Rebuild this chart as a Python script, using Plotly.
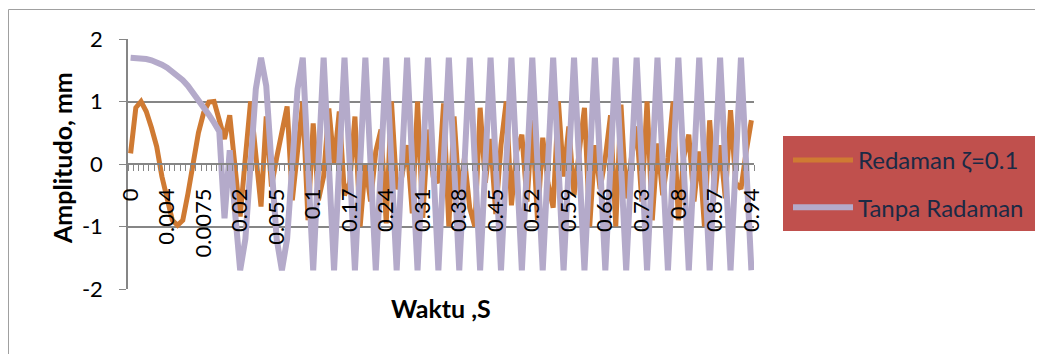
import plotly.graph_objects as go

# ---------------- data ----------------
waktu = [0, 0.001, 0.0015, 0.002, 0.0025, 0.003, 0.0035, 0.004,
         0.0045, 0.005, 0.0055, 0.006, 0.0065, 0.007, 0.0075,
         0.008, 0.0085, 0.009, 0.0095, 0.01, 0.015, 0.02,
         0.025, 0.03, 0.035, 0.04, 0.045, 0.05, 0.055,
         0.06, 0.065, 0.07, 0.075, 0.08, 0.09, 0.1,
         0.11, 0.12, 0.13, 0.14, 0.15, 0.16, 0.17,
         0.18, 0.19, 0.2, 0.21, 0.22, 0.23, 0.24,
         0.25, 0.26, 0.27, 0.28, 0.29, 0.3, 0.31,
         0.32, 0.33, 0.34, 0.35, 0.36, 0.37, 0.38,
         0.39, 0.4, 0.41, 0.42, 0.43, 0.44, 0.45,
         0.46, 0.47, 0.48, 0.49, 0.5, 0.51, 0.52,
         0.53, 0.54, 0.55, 0.56, 0.57, 0.58, 0.59,
         0.6, 0.61, 0.62, 0.63, 0.64, 0.65, 0.66,
         0.67, 0.68, 0.69, 0.7, 0.71, 0.72, 0.73,
         0.74, 0.75, 0.76, 0.77, 0.78, 0.79, 0.8,
         0.81, 0.82, 0.83, 0.84, 0.85, 0.86, 0.87,
         0.88, 0.89, 0.9, 0.91, 0.92, 0.93, 0.94]

redaman = [0.17, 0.90, 1.00, 0.84, 0.58, 0.28, -0.20, -0.58,
           -0.90, -0.98, -0.90, -0.47, 0.06, 0.50, 0.82,
           0.99, 1.00, 0.72, 0.40, 0.78, 0.00, -0.84,
           0.10, 1.00, 0.15, -0.68, 0.76, -0.36, 0.10,
           0.55, 0.92, -0.58, 0.20, 1.00, -0.90, 0.65,
           -0.58, -0.20, 0.89, 0.00, 0.84, -0.50, -0.30,
           0.76, -1.00, 0.00, -0.60, 0.20, 0.55, -0.95,
           1.00, -0.40, -0.20, 0.30, -0.79, 1.00, -0.86,
           0.55, -0.20, -0.30, 0.97, -1.00, 0.76, -0.50,
           0.10, -0.70, -1.00, 0.90, -0.30, 0.40, -0.80,
           0.30, 1.00, -0.66, 0.20, 0.47, -0.60, 0.70,
           -0.90, 0.42, -0.30, -0.70, 1.00, -0.20, 0.60,
           -0.50, 0.20, 0.90, -1.00, 0.30, -0.40, 0.10,
           0.78, -1.00, 0.95, -0.55, 0.10, 0.60, -0.60,
           1.00, -0.90, 0.33, -0.50, 0.10, 1.00, -0.90,
           0.10, 0.47, -0.60, 0.20, -1.00, 0.70, -0.50,
           0.30, -0.55, 0.86, -0.30, -0.40, 0.20, 0.70]

tanpa = [1.70, 1.70, 1.69, 1.68, 1.66, 1.63, 1.59, 1.54,
         1.48, 1.42, 1.34, 1.25, 1.14, 1.03, 0.92,
         0.79, 0.66, 0.52, -0.87, 0.22, -0.75, -1.70,
         -1.20, 0.00, 1.20, 1.70, 1.25, 0.00, -1.20,
         -1.70, -1.20, 0.00, 1.20, 1.70, 0.00, -1.70,
         0.00, 1.70, 0.00, -1.70, 0.00, 1.70, 0.00,
         -1.70, 0.00, 1.70, 0.00, -1.70, 0.00, 1.70,
         0.00, -1.70, 0.00, 1.70, 0.00, -1.70, 0.00,
         1.70, 0.00, -1.70, 0.00, 1.70, 0.00, -1.70,
         0.00, 1.70, 0.00, -1.70, 0.00, 1.70, 0.00,
         -1.70, 0.00, 1.70, 0.00, -1.70, 0.00, 1.70,
         0.00, -1.70, 0.00, 1.70, 0.00, -1.70, 0.00,
         1.70, 0.00, -1.70, 0.00, 1.70, 0.00, -1.70,
         0.00, 1.70, 0.00, -1.70, 0.00, 1.70, 0.00,
         -1.70, 0.00, 1.70, 0.00, -1.70, 0.00, 1.70,
         0.00, -1.70, 0.00, 1.70, 0.00, -1.70, 0.00,
         1.70, 0.00, -1.70, 0.00, 1.70, 0.00, -1.70]

tick_labels = ["0", "0.004", "0.0075", "0.02", "0.055", "0.1", "0.17", "0.24",
               "0.31", "0.38", "0.45", "0.52", "0.59", "0.66", "0.73", "0.8",
               "0.87", "0.94"]

y_tick_values = [-2, -1, 0, 1, 2]
y_tick_labels = ["-2", "-1", "0", "1", "2"]

series_names = ["Redaman ζ=0.1", "Tanpa Radaman"]

# ---------------- figure ----------------
kategori = [f"{t:g}" for t in waktu]
tick_text = [k if k in tick_labels else "" for k in kategori]

# the page body has an 8px margin; work in page pixel coordinates
OFF = 8
W, H = 1043 - OFF, 354 - OFF
PL, PR, PT, PB = 128, 754, 39, 289          # plot area in page pixels
ML, MT = PL - OFF, PT - OFF
MR, MB = W - (PR - OFF), H - (PB - OFF)
PW, PH = PR - PL, PB - PT


def px(xp):
    return (xp - PL) / PW


def py(yp):
    return (PB - yp) / PH


GREY = "#868686"
FONT = "Lato"

fig = go.Figure()
fig.add_trace(go.Scatter(x=kategori, y=redaman, mode="lines", name=series_names[0],
                         legendgroup="a",
                         line=dict(color="#CF7A33", width=5)))
fig.add_trace(go.Scatter(x=kategori, y=tanpa, mode="lines", name=series_names[1],
                         legendgroup="b",
                         line=dict(color="#B4AACA", width=6)))

fig.update_layout(
    width=W, height=H,
    margin=dict(l=ML, r=MR, t=MT, b=MB, autoexpand=False),
    paper_bgcolor="white", plot_bgcolor="white",
    font=dict(family=FONT, size=22, color="black"),
    showlegend=True,
    legend=dict(x=px(788), y=py(138), xanchor="left", yanchor="top",
                bgcolor="rgba(0,0,0,0)", borderwidth=0,
                font=dict(family=FONT, size=24, color="#1B2A45"),
                itemwidth=60, tracegroupgap=13),
    shapes=[
        dict(type="rect", xref="paper", yref="paper",
             x0=px(783), x1=px(1038), y0=py(231), y1=py(136),
             fillcolor="#C0504D", line=dict(width=0), layer="below"),
        dict(type="line", xref="paper", yref="paper",
             x0=px(8.5), x1=px(8.5), y0=py(9.5), y1=py(360),
             line=dict(color="#A0A0A0", width=1), layer="below"),
        dict(type="line", xref="paper", yref="paper",
             x0=px(8.5), x1=px(1035.5), y0=py(9.5), y1=py(9.5),
             line=dict(color="#A0A0A0", width=1), layer="below"),
    ],
    annotations=[
        dict(text="<b>Waktu ,S</b>", xref="paper", yref="paper",
             x=0.5, y=py(308), xanchor="center", yanchor="middle",
             showarrow=False, font=dict(family=FONT, size=25, color="black")),
        dict(text="<b>Amplitudo, mm</b>", xref="paper", yref="paper",
             x=px(62), y=py(158), xanchor="center", yanchor="middle",
             textangle=-90, showarrow=False,
             font=dict(family=FONT, size=25, color="black")),
    ],
)

fig.update_xaxes(type="category", categoryorder="array", categoryarray=kategori,
                 tickmode="array", tickvals=kategori, ticktext=tick_text,
                 tickangle=-90, ticks="outside", ticklen=6, tickwidth=1,
                 tickcolor=GREY, showline=True, linecolor=GREY, linewidth=1.5,
                 showgrid=False, zeroline=False, anchor="free", position=0.5,
                 ticklabelstandoff=15, tickson="boundaries", automargin=False,
                 range=[-0.5, len(kategori) - 0.5],
                 tickfont=dict(family=FONT, size=22, color="black"))

fig.update_yaxes(range=[-2, 2], tickmode="array", tickvals=y_tick_values,
                 ticktext=y_tick_labels, ticks="outside", ticklen=7,
                 tickwidth=1, tickcolor=GREY, showline=True, linecolor=GREY,
                 linewidth=1.5, showgrid=True, gridcolor=GREY, gridwidth=1.5,
                 zeroline=False, ticklabelstandoff=12, automargin=False,
                 tickfont=dict(family=FONT, size=22, color="black"))

fig.write_html("out.html")
